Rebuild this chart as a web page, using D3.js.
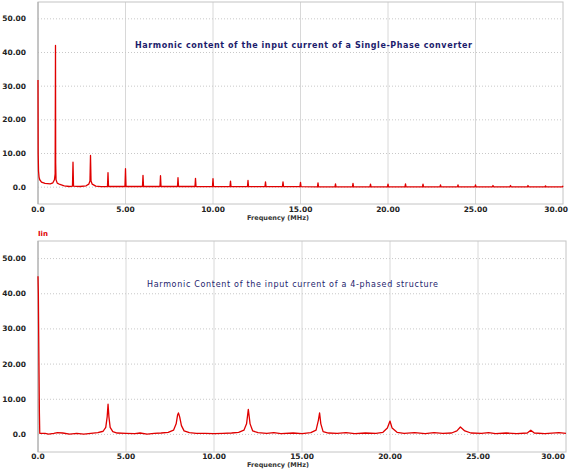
<!DOCTYPE html>
<html>
<head>
<meta charset="utf-8">
<script src="https://cdn.jsdelivr.net/npm/d3@7"></script>
<style>
  body { margin: 0; background: #fff; }
  svg { display: block; }
  text { font-family: "DejaVu Sans", Verdana, sans-serif; }
</style>
</head>
<body>
<div id="chart"></div>
<script>
// Tick values shared by both panels
const xTicks = [0, 5, 10, 15, 20, 25, 30];
const yTicks = [0, 10, 20, 30, 40, 50];

// Single-phase converter spectrum, [frequency MHz, amplitude]
const singlePhase = [
  [0, 31.8], [0.01, 10], [0.03, 4.8], [0.06, 3], [0.1, 2.2], [0.2, 1.5], [0.4, 1.1], [0.7, 1.0],
  [0.85, 1.3], [0.94, 2.2], [0.98, 4], [1.0, 42.1], [1.01, 7.2], [1.03, 2.2], [1.1, 1.2], [1.25, 0.8],
  [1.5, 0.4], [1.8, 0.2], [1.97, 0.3], [2, 7.4], [2.03, 0.3], [2.4, 0.2], [2.75, 0.4], [2.9, 0.9],
  [2.97, 1.8], [3, 9.4], [3.03, 1.8], [3.1, 0.9], [3.3, 0.3], [3.6, 0.15],
  [3.97, 0.2], [4, 4.3], [4.03, 0.2], [4.97, 0.2], [5, 5.5], [5.03, 0.2],
  [5.97, 0.2], [6, 3.5], [6.03, 0.2], [6.97, 0.2], [7, 3.4], [7.03, 0.2],
  [7.97, 0.2], [8, 2.8], [8.03, 0.2], [8.97, 0.2], [9, 2.6], [9.03, 0.2],
  [9.97, 0.15], [10, 2.5], [10.03, 0.15], [10.97, 0.15], [11, 1.8], [11.03, 0.15],
  [11.97, 0.15], [12, 2.0], [12.03, 0.15], [12.97, 0.15], [13, 1.6], [13.03, 0.15],
  [13.97, 0.15], [14, 1.6], [14.03, 0.15], [14.97, 0.15], [15, 1.4], [15.03, 0.15],
  [15.97, 0.1], [16, 1.3], [16.03, 0.1], [16.97, 0.1], [17, 1.0], [17.03, 0.1],
  [17.97, 0.1], [18, 1.1], [18.03, 0.1], [18.97, 0.1], [19, 0.9], [19.03, 0.1],
  [19.97, 0.1], [20, 0.9], [20.03, 0.1], [20.97, 0.1], [21, 1.0], [21.03, 0.1],
  [21.97, 0.1], [22, 0.9], [22.03, 0.1], [22.97, 0.1], [23, 0.7], [23.03, 0.1],
  [23.97, 0.1], [24, 0.7], [24.03, 0.1], [24.97, 0.1], [25, 0.7], [25.03, 0.1],
  [25.97, 0.1], [26, 0.5], [26.03, 0.1], [26.97, 0.1], [27, 0.5], [27.03, 0.1],
  [27.97, 0.1], [28, 0.5], [28.03, 0.1], [28.97, 0.1], [29, 0.4], [29.03, 0.1],
  [29.97, 0.1], [30, 0.4]
];

// 4-phased structure spectrum
const fourPhase = [
  [0, 45], [0.02, 40], [0.04, 28], [0.06, 17], [0.08, 6], [0.1, 0.3], [0.4, 0.3], [0.6, 0.1],
  [0.9, 0.3], [1.1, 0.5], [1.4, 0.4], [1.8, 0.1], [2.2, 0.3], [2.6, 0.1], [3.0, 0.3], [3.4, 0.5],
  [3.7, 0.9], [3.85, 2], [3.93, 5], [3.98, 8.6], [4.03, 5], [4.1, 2], [4.25, 0.8], [4.5, 0.4],
  [5.0, 0.3], [5.5, 0.2], [5.8, 0.4], [6.2, 0.1], [6.6, 0.3], [7.0, 0.4], [7.4, 0.6], [7.7, 1.2],
  [7.85, 3], [7.93, 5.5], [7.98, 6.1], [8.05, 5], [8.15, 2.5], [8.3, 1], [8.6, 0.5], [9, 0.3],
  [9.5, 0.3], [10, 0.2], [10.5, 0.3], [11, 0.4], [11.4, 0.6], [11.7, 1.2], [11.85, 3], [11.95, 7.1],
  [12.05, 3], [12.2, 1], [12.5, 0.5], [13, 0.3], [13.4, 0.5], [13.8, 0.2], [14.5, 0.4], [15, 0.2],
  [15.5, 0.5], [15.8, 1.2], [15.93, 4], [16, 6.1], [16.07, 3], [16.2, 0.8], [16.5, 0.4], [17, 0.3],
  [17.5, 0.5], [18, 0.2], [18.6, 0.4], [19.2, 0.3], [19.6, 0.6], [19.85, 1.8], [20, 3.8], [20.12, 1.8],
  [20.4, 0.6], [20.8, 0.3], [21.4, 0.5], [22, 0.2], [22.5, 0.5], [23, 0.3], [23.5, 0.4], [23.8, 1],
  [24, 2.1], [24.25, 1], [24.6, 0.4], [25.2, 0.3], [25.6, 0.5], [26, 0.2], [26.6, 0.4], [27.2, 0.2],
  [27.8, 0.4], [28, 1.2], [28.2, 0.4], [28.8, 0.2], [29.6, 0.5], [30, 0.3]
];

const width = 570;
const height = 469;

const svg = d3.select('#chart')
              .append('svg')
              .attr('width', width)
              .attr('height', height);

drawPanel({
  data: singlePhase,
  left: 38, right: 563, top: 2, bottom: 204,
  title: 'Harmonic content of the input current of a Single-Phase converter',
  titleX: 135, titleY: 48, titleLen: 337, titleBold: true,
  tickY: 212, labelY: 220, labelX: 278, lastTickEnd: 568
});

drawPanel({
  data: fourPhase,
  left: 38, right: 566, top: 241, bottom: 452,
  title: 'Harmonic Content of the input current of a 4-phased structure',
  titleX: 147, titleY: 287, titleLen: 291, titleBold: false,
  tickY: 459, labelY: 467, labelX: 278, lastTickEnd: 565,
  seriesName: 'Iin'
});

function fmt(v) {
  return v === 0 ? '0.0' : v.toFixed(2);
}

function drawPanel(p) {
  const x = d3.scaleLinear().domain([0, 30]).range([p.left, p.right]);
  const y = d3.scaleLinear().domain([-5, 55]).range([p.bottom, p.top]);
  const g = svg.append('g');

  // vertical grid (solid, light)
  g.selectAll('.vgrid')
   .data(xTicks.filter(d => d > 0 && d < 30))
   .enter()
   .append('line')
   .attr('x1', d => x(d)).attr('x2', d => x(d))
   .attr('y1', p.top).attr('y2', p.bottom)
   .attr('stroke', '#d8d8d8')
   .attr('stroke-width', 1);

  // horizontal grid (dotted)
  g.selectAll('.hgrid')
   .data(yTicks)
   .enter()
   .append('line')
   .attr('x1', p.left).attr('x2', p.right)
   .attr('y1', d => y(d)).attr('y2', d => y(d))
   .attr('stroke', '#c8c8c8')
   .attr('stroke-width', 1)
   .attr('stroke-dasharray', '1,2');

  // plot frame
  g.append('rect')
   .attr('x', p.left).attr('y', p.top)
   .attr('width', p.right - p.left).attr('height', p.bottom - p.top)
   .attr('fill', 'none')
   .attr('stroke', '#c4c4c4')
   .attr('stroke-width', 1);
  g.append('line')
   .attr('x1', p.left).attr('x2', p.left)
   .attr('y1', p.top).attr('y2', p.bottom)
   .attr('stroke', '#a8a8a8');

  // y tick labels
  g.selectAll('.ylab')
   .data(yTicks)
   .enter()
   .append('text')
   .attr('x', p.left - 12)
   .attr('y', d => y(d) + 2.5)
   .attr('text-anchor', 'end')
   .attr('font-size', 7.5)
   .attr('font-weight', 'bold')
   .attr('fill', '#222')
   .text(fmt);

  // x tick labels (last one pulled in so it stays on the page)
  g.selectAll('.xlab')
   .data(xTicks)
   .enter()
   .append('text')
   .attr('x', d => d === 30 ? p.lastTickEnd : x(d))
   .attr('y', p.tickY)
   .attr('text-anchor', d => d === 30 ? 'end' : 'middle')
   .attr('font-size', 7.5)
   .attr('font-weight', 'bold')
   .attr('fill', '#222')
   .text(fmt);

  g.append('text')
   .attr('x', p.labelX)
   .attr('y', p.labelY)
   .attr('text-anchor', 'middle')
   .attr('font-size', 6.5)
   .attr('font-weight', 'bold')
   .attr('fill', '#333')
   .text('Frequency (MHz)');

  g.append('text')
   .attr('x', p.titleX)
   .attr('y', p.titleY)
   .attr('font-size', 8)
   .attr('font-weight', p.titleBold ? 'bold' : 'normal')
   .attr('fill', '#1c1c6c')
   .attr('textLength', p.titleLen)
   .attr('lengthAdjust', 'spacing')
   .text(p.title);

  if (p.seriesName) {
    g.append('text')
     .attr('x', p.left)
     .attr('y', p.top - 5)
     .attr('font-size', 7)
     .attr('font-weight', 'bold')
     .attr('fill', '#e00000')
     .text(p.seriesName);
  }

  // the spectrum line
  const line = d3.line()
                 .x(d => x(d[0]))
                 .y(d => y(d[1]));

  g.append('path')
   .datum(p.data)
   .attr('d', line)
   .attr('fill', 'none')
   .attr('stroke', '#e00000')
   .attr('stroke-width', 1.3)
   .attr('stroke-linejoin', 'round');
}
</script>
</body>
</html>
